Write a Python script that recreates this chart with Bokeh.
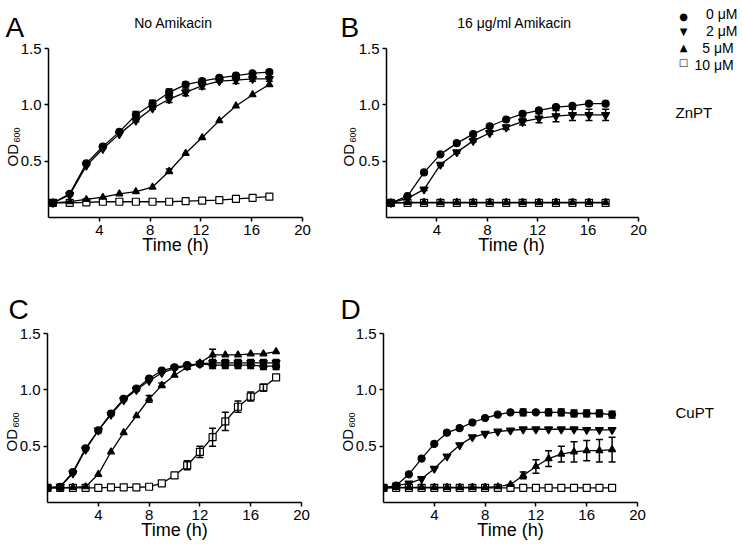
import math
from bokeh.plotting import figure
from bokeh.models import (Range1d, FixedTicker, Label, Whisker, TeeHead, ColumnDataSource,
                          PrintfTickFormatter)
from bokeh.layouts import column, row
from bokeh.embed import file_html
from bokeh.resources import INLINE

FONT = "Liberation Sans"

# ---------------- data ----------------
conc_labels = ["0 μM", "2 μM", "5  μM", "10  μM"]
legend_symbols = ["●", "▼", "▲", "□"]
x_ticks = [4, 8, 12, 16, 20]
y_ticks = [0.5, 1.0, 1.5]

# time points (h)
t_ab = [0.35, 1.67, 2.98, 4.28, 5.58, 6.88, 8.19, 9.5, 10.8, 12.1, 13.45, 14.76, 16.07, 17.39]
t_cd = [0, 1, 2, 3, 4, 5, 6, 7, 8, 9, 10, 11, 12, 13, 14, 15, 16, 17, 18]

# Panel A : ZnPT, no amikacin
a_0 = [0.13, 0.21, 0.48, 0.63, 0.76, 0.91, 1.01, 1.11, 1.18, 1.21, 1.24, 1.26, 1.28, 1.29]
a_0_err = [0, 0, 0.01, 0.01, 0.01, 0.03, 0.03, 0.03, 0.02, 0.02, 0.01, 0.01, 0.01, 0.01]
a_2 = [0.13, 0.20, 0.46, 0.61, 0.74, 0.86, 0.97, 1.05, 1.11, 1.17, 1.21, 1.22, 1.23, 1.23]
a_2_err = [0, 0, 0, 0, 0, 0.01, 0.01, 0.03, 0.03, 0.03, 0.01, 0.03, 0.02, 0.02]
a_5 = [0.13, 0.14, 0.16, 0.18, 0.21, 0.23, 0.27, 0.41, 0.57, 0.71, 0.86, 0.99, 1.09, 1.18]
a_5_err = [0, 0, 0, 0, 0, 0, 0, 0.02, 0, 0, 0, 0, 0, 0]
a_10 = [0.13, 0.13, 0.135, 0.14, 0.14, 0.14, 0.14, 0.14, 0.145, 0.15, 0.155, 0.165, 0.175, 0.185]
a_10_err = [0] * 14

# Panel B : ZnPT, 16 ug/ml amikacin
b_0 = [0.13, 0.19, 0.40, 0.56, 0.66, 0.74, 0.81, 0.87, 0.92, 0.95, 0.98, 0.99, 1.01, 1.01]
b_0_err = [0, 0, 0, 0, 0, 0, 0, 0, 0.01, 0.01, 0.01, 0.01, 0.01, 0.01]
b_2 = [0.13, 0.17, 0.25, 0.47, 0.58, 0.68, 0.75, 0.80, 0.85, 0.88, 0.90, 0.91, 0.91, 0.91]
b_2_err = [0, 0, 0.01, 0.01, 0.01, 0.01, 0.01, 0.02, 0.03, 0.04, 0.05, 0.05, 0.05, 0.05]
b_5 = [0.13, 0.135, 0.135, 0.135, 0.135, 0.135, 0.135, 0.135, 0.135, 0.135, 0.135, 0.135, 0.135, 0.135]
b_5_err = [0] * 14
b_10 = [0.13, 0.13, 0.13, 0.13, 0.13, 0.13, 0.13, 0.13, 0.13, 0.13, 0.13, 0.13, 0.13, 0.13]
b_10_err = [0] * 14

# Panel C : CuPT, no amikacin
c_0 = [0.13, 0.14, 0.27, 0.48, 0.64, 0.79, 0.92, 1.01, 1.10, 1.17, 1.20, 1.22, 1.23, 1.22, 1.22, 1.22, 1.22, 1.21, 1.21]
c_0_err = [0, 0, 0, 0, 0, 0, 0, 0, 0, 0, 0, 0, 0.02, 0.03, 0.03, 0.03, 0.03, 0.03, 0.03]
c_2 = [0.13, 0.14, 0.26, 0.47, 0.64, 0.78, 0.91, 1.00, 1.08, 1.15, 1.19, 1.21, 1.23, 1.24, 1.24, 1.24, 1.24, 1.24, 1.24]
c_2_err = [0, 0, 0, 0, 0, 0, 0, 0, 0, 0, 0, 0, 0, 0.03, 0.03, 0.03, 0.03, 0.03, 0.03]
c_5 = [0.13, 0.13, 0.135, 0.14, 0.25, 0.45, 0.62, 0.77, 0.92, 1.04, 1.13, 1.20, 1.24, 1.31, 1.31, 1.31, 1.32, 1.32, 1.34]
c_5_err = [0, 0, 0, 0, 0, 0, 0, 0, 0.03, 0.02, 0, 0, 0, 0.05, 0, 0, 0, 0, 0]
c_10 = [0.13, 0.13, 0.13, 0.13, 0.13, 0.135, 0.135, 0.135, 0.14, 0.17, 0.24, 0.33, 0.45, 0.58, 0.72, 0.85, 0.94, 1.02, 1.11]
c_10_err = [0, 0, 0, 0, 0, 0, 0, 0, 0, 0, 0, 0.04, 0.05, 0.08, 0.08, 0.05, 0.04, 0.03, 0]

# Panel D : CuPT, 16 ug/ml amikacin
d_0 = [0.13, 0.15, 0.25, 0.39, 0.52, 0.62, 0.66, 0.71, 0.75, 0.78, 0.80, 0.80, 0.80, 0.80, 0.80, 0.79, 0.79, 0.79, 0.78]
d_0_err = [0, 0, 0, 0, 0, 0, 0, 0, 0, 0, 0, 0.03, 0.01, 0.03, 0.03, 0.03, 0.03, 0.03, 0.03]
d_2 = [0.13, 0.15, 0.17, 0.21, 0.30, 0.41, 0.51, 0.58, 0.61, 0.63, 0.64, 0.65, 0.65, 0.65, 0.65, 0.65, 0.645, 0.645, 0.645]
d_2_err = [0] * 19
d_5 = [0.13, 0.135, 0.135, 0.135, 0.135, 0.135, 0.135, 0.135, 0.135, 0.14, 0.16, 0.24, 0.32, 0.39, 0.43, 0.45, 0.46, 0.46, 0.47]
d_5_err = [0, 0, 0, 0, 0, 0, 0, 0, 0, 0, 0, 0.03, 0.06, 0.07, 0.07, 0.09, 0.09, 0.10, 0.11]
d_10 = [0.13] * 19
d_10_err = [0] * 19

styles = {
    "0": dict(marker="circle", size=7, fill_color="black"),
    "2": dict(marker="inverted_triangle", size=8, fill_color="black"),
    "5": dict(marker="triangle", size=7, fill_color="black"),
    "10": dict(marker="square", size=7, fill_color="white"),
}


def make_fig(width, height, bl, br, bt, bb):
    p = figure(width=width, height=height, x_range=Range1d(0, 20), y_range=Range1d(0, 1.5),
               output_backend="svg", toolbar_location=None,
               min_border_left=bl, min_border_right=br, min_border_top=bt, min_border_bottom=bb)
    p.xgrid.visible = False
    p.ygrid.visible = False
    p.outline_line_color = None
    p.xaxis.ticker = FixedTicker(ticks=x_ticks)
    p.yaxis.ticker = FixedTicker(ticks=y_ticks)
    p.xaxis.formatter = PrintfTickFormatter(format="%d")
    p.yaxis.formatter = PrintfTickFormatter(format="%.1f")
    for ax in p.xaxis + p.yaxis:
        ax.axis_line_width = 1.5
        ax.axis_line_color = "black"
        ax.major_tick_line_width = 1.5
        ax.major_tick_line_color = "black"
        ax.major_tick_out = 4
        ax.major_tick_in = 0
        ax.minor_tick_line_color = None
        ax.major_label_text_font = FONT
        ax.major_label_text_font_size = "15px"
        ax.major_label_text_color = "black"
        ax.major_label_standoff = 3
    return p


def draw_series(p, t, y, err, key):
    st = styles[key]
    p.line(t, y, line_color="black", line_width=1.3)
    r = p.scatter(t, y, marker=st["marker"], size=st["size"], fill_color=st["fill_color"],
                  line_color="black", line_width=1.2)
    idx = [i for i in range(len(err)) if err[i] > 0]
    if idx:
        src = ColumnDataSource(dict(x=[t[i] for i in idx],
                                    lo=[y[i] - err[i] for i in idx],
                                    hi=[y[i] + err[i] for i in idx]))
        p.add_layout(Whisker(base="x", upper="hi", lower="lo", source=src,
                             line_color="black", line_width=1.5, level="glyph",
                             upper_head=TeeHead(size=7, line_width=1.5, line_color="black"),
                             lower_head=TeeHead(size=7, line_width=1.5, line_color="black")))
    return r


def add_label(p, side, text, x, y, size, align="left", baseline="alphabetic", angle=0.0,
              font=FONT, line_height=1.2):
    # positions in canvas pixels (origin at the figure's top-left corner)
    lab = Label(x=x, y=y, x_units="canvas", y_units="canvas", text=text,
                text_font=font, text_font_size=size, text_align=align,
                text_baseline=baseline, angle=angle, text_color="black",
                text_line_height=line_height)
    p.add_layout(lab, side)


def draw_panel(p, t, series):
    for key, (y, e) in series:
        draw_series(p, t, y, e, key)


def od_label(p, side, x_base, y_start, side_sub=None):
    add_label(p, side, "OD", x_base, y_start, "15px", angle=math.pi / 2)
    add_label(p, side_sub or side, "600", x_base + 4, y_start - 24, "9px", angle=math.pi / 2)


# ---------------- figures ----------------
# canvas origins: A(0,0)  B(338,0)  C(0,267)  D(338,267)
pA = make_fig(338, 267, 48, 36, 48, 50)
pB = make_fig(404, 267, 46, 104, 48, 50)
pC = make_fig(338, 276, 47, 37, 66, 41)
pD = make_fig(404, 276, 45, 105, 66, 41)

draw_panel(pA, t_ab, [("10", (a_10, a_10_err)), ("5", (a_5, a_5_err)), ("2", (a_2, a_2_err)), ("0", (a_0, a_0_err))])
draw_panel(pB, t_ab, [("10", (b_10, b_10_err)), ("5", (b_5, b_5_err)), ("2", (b_2, b_2_err)), ("0", (b_0, b_0_err))])
draw_panel(pC, t_cd, [("10", (c_10, c_10_err)), ("5", (c_5, c_5_err)), ("2", (c_2, c_2_err)), ("0", (c_0, c_0_err))])
draw_panel(pD, t_cd, [("10", (d_10, d_10_err)), ("5", (d_5, d_5_err)), ("2", (d_2, d_2_err)), ("0", (d_0, d_0_err))])

# Panel A texts
add_label(pA, "above", "A", 5, 27, "28px")
add_label(pA, "above", "No Amikacin", 173, 22, "14px", align="center")
add_label(pA, "below", "Time (h)", 175, 244, "18px", align="center", baseline="middle")
od_label(pA, "right", 12, 166)

# Panel B texts (legend block + ZnPT sit in B's right margin)
add_label(pB, "above", "B", 2, 27, "28px")
add_label(pB, "above", "16 μg/ml  Amikacin", 178, 22, "14px", align="center")
add_label(pB, "below", "Time (h)", 173, 244, "18px", align="center", baseline="middle")
od_label(pB, "left", 10, 166, side_sub="right")
add_label(pB, "right", "\n".join(legend_symbols), 345, 39, "10px", align="center",
          baseline="middle", font="DejaVu Sans", line_height=1.41)
add_label(pB, "right", "\n".join(conc_labels), 399, 39, "14px", align="right",
          baseline="middle", line_height=1.05)
add_label(pB, "right", "ZnPT", 337, 112, "15px", baseline="middle")

# Panel C texts
add_label(pC, "above", "C", 8, 42, "28px")
add_label(pC, "above", "Time (h)", 174, 262, "18px", align="center", baseline="middle")
od_label(pC, "right", 11, 184)

# Panel D texts
add_label(pD, "above", "D", 2, 42, "28px")
add_label(pD, "above", "Time (h)", 172, 262, "18px", align="center", baseline="middle")
od_label(pD, "right", 9, 184)
add_label(pD, "right", "CuPT", 337, 145, "15px", baseline="middle")

layout = column(row(pA, pB), row(pC, pD))

with open("out.html", "w") as f:
    f.write(file_html(layout, INLINE))
